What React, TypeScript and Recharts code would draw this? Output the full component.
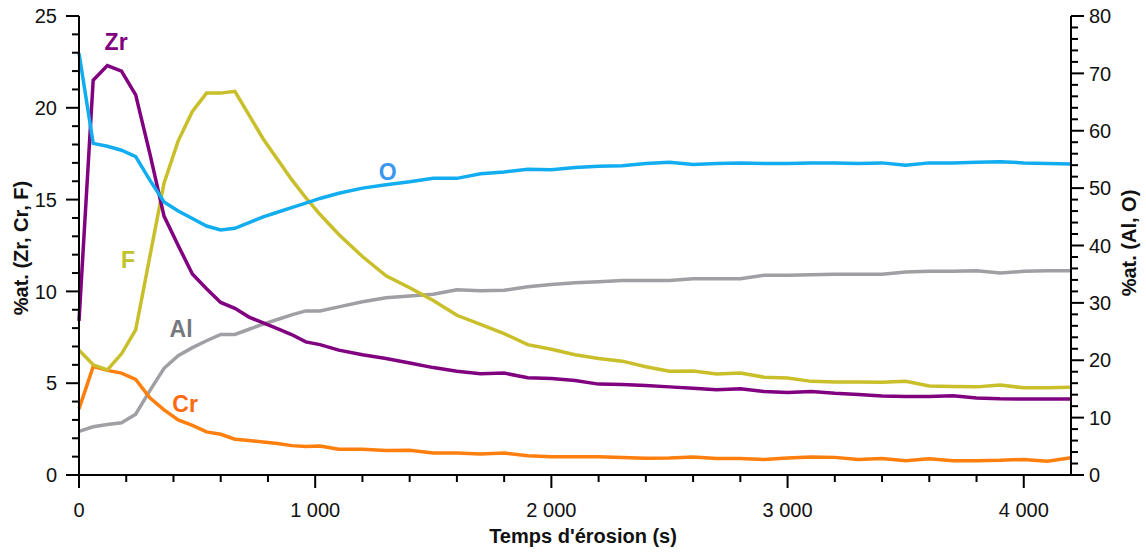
import { LineChart, Line, XAxis, YAxis, ReferenceDot } from "recharts";

// sputtering time (s)
const times = [
  0, 60, 120, 180, 240, 300, 360, 420, 480, 540, 600, 660, 720, 780, 840, 900, 960, 1020,
  1100, 1200, 1300, 1400, 1500, 1600, 1700, 1800, 1900, 2000, 2100, 2200, 2300, 2400, 2500,
  2600, 2700, 2800, 2900, 3000, 3100, 3200, 3300, 3400, 3500, 3600, 3700, 3800, 3900, 4000,
  4100, 4200,
];

// left axis (%at.)
const zr = [
  8.4, 21.5, 22.3, 22.0, 20.7, 17.5, 14.1, 12.5, 10.95, 10.15, 9.4, 9.08, 8.6, 8.28, 7.97, 7.65, 7.25, 7.1,
  6.8, 6.55, 6.35, 6.1, 5.85, 5.65, 5.52, 5.55, 5.3, 5.25, 5.15, 4.95, 4.93, 4.88, 4.8,
  4.73, 4.64, 4.7, 4.55, 4.5, 4.55, 4.45, 4.38, 4.3, 4.28, 4.28, 4.32, 4.2, 4.15, 4.14,
  4.14, 4.14,
];
const cr = [
  3.6, 5.9, 5.7, 5.55, 5.2, 4.2, 3.55, 3.0, 2.7, 2.35, 2.22, 1.95, 1.88, 1.8, 1.72, 1.6, 1.55, 1.58,
  1.4, 1.4, 1.33, 1.35, 1.2, 1.2, 1.15, 1.2, 1.05, 1.0, 1.0, 1.0, 0.95, 0.91, 0.93,
  0.98, 0.9, 0.9, 0.85, 0.93, 0.98, 0.96, 0.84, 0.9, 0.78, 0.88, 0.78, 0.78, 0.8, 0.85,
  0.75, 0.94,
];
const fl = [
  6.8, 6.0, 5.72, 6.6, 7.9, 11.9, 15.9, 18.2, 19.8, 20.8, 20.8, 20.9, 19.6, 18.3, 17.2, 16.1, 15.1, 14.2,
  13.1, 11.9, 10.85, 10.2, 9.5, 8.7, 8.2, 7.7, 7.1, 6.85, 6.55, 6.35, 6.2, 5.9, 5.65,
  5.67, 5.5, 5.55, 5.33, 5.28, 5.1, 5.07, 5.07, 5.05, 5.1, 4.85, 4.82, 4.8, 4.9, 4.75,
  4.75, 4.78,
];

// right axis (%at.)
const al = [
  7.6, 8.4, 8.8, 9.1, 10.6, 14.7, 18.6, 20.8, 22.2, 23.4, 24.5, 24.5, 25.4, 26.3, 27.1, 27.9, 28.6, 28.6,
  29.3, 30.2, 30.9, 31.2, 31.5, 32.3, 32.1, 32.2, 32.8, 33.2, 33.5, 33.7, 33.9, 33.9, 33.9,
  34.2, 34.2, 34.2, 34.8, 34.8, 34.9, 35.0, 35.0, 35.0, 35.4, 35.5, 35.5, 35.6, 35.2, 35.5,
  35.6, 35.6,
];
const ox = [
  73.5, 57.8, 57.3, 56.6, 55.5, 51.4, 47.6, 46.0, 44.7, 43.4, 42.7, 43.0, 44.0, 45.0, 45.8, 46.6, 47.4, 48.2,
  49.1, 50.0, 50.6, 51.1, 51.7, 51.7, 52.5, 52.8, 53.3, 53.2, 53.6, 53.8, 53.9, 54.3, 54.5,
  54.1, 54.3, 54.4, 54.3, 54.3, 54.4, 54.4, 54.3, 54.4, 54.0, 54.4, 54.4, 54.5, 54.6, 54.4,
  54.3, 54.2,
];

const xTicks = [0, 200, 400, 600, 800, 1000, 1200, 1400, 1600, 1800, 2000, 2200, 2400, 2600, 2800, 3000, 3200, 3400, 3600, 3800, 4000];
const xTickLabels: Record<number, string> = { 0: "0", 1000: "1 000", 2000: "2 000", 3000: "3 000", 4000: "4 000" };
const leftTicks = [0, 1, 2, 3, 4, 5, 6, 7, 8, 9, 10, 11, 12, 13, 14, 15, 16, 17, 18, 19, 20, 21, 22, 23, 24, 25];
const rightTicks = [0, 2, 4, 6, 8, 10, 12, 14, 16, 18, 20, 22, 24, 26, 28, 30, 32, 34, 36, 38, 40, 42, 44, 46, 48, 50, 52, 54, 56, 58, 60, 62, 64, 66, 68, 70, 72, 74, 76, 78, 80];

// series name labels, placed in left-axis data units
const seriesLabels = [
  { text: "Zr", t: 157, v: 23.6, color: "#800080" },
  { text: "O", t: 1307, v: 16.5, color: "#3a96ee" },
  { text: "F", t: 208, v: 11.7, color: "#c2c22a" },
  { text: "Al", t: 432, v: 7.95, color: "#75787c" },
  { text: "Cr", t: 449, v: 3.9, color: "#ff6a10" },
];

const data = times.map((t, i) => ({ t, zr: zr[i], cr: cr[i], fl: fl[i], al: al[i], ox: ox[i] }));

const FONT = "'Liberation Sans', Arial, sans-serif";

function LeftTick(props: any) {
  const { x, y, payload } = props;
  const major = payload.value % 5 === 0;
  return (
    <g>
      <line x1={x} x2={x - (major ? 13 : 7)} y1={y} y2={y} stroke="#000" strokeWidth={2} />
      {major && (
        <text x={x - 22} y={y} dy="0.36em" textAnchor="end" fontSize={20} fontFamily={FONT} fill="#111">
          {payload.value}
        </text>
      )}
    </g>
  );
}

function RightTick(props: any) {
  const { x, y, payload } = props;
  const major = payload.value % 10 === 0;
  return (
    <g>
      <line x1={x} x2={x + (major ? 13 : 7)} y1={y} y2={y} stroke="#000" strokeWidth={2} />
      {major && (
        <text x={x + 18} y={y} dy="0.36em" textAnchor="start" fontSize={20} fontFamily={FONT} fill="#111">
          {payload.value}
        </text>
      )}
    </g>
  );
}

function BottomTick(props: any) {
  const { x, y, payload } = props;
  const label = xTickLabels[payload.value];
  return (
    <g>
      <line x1={x} x2={x} y1={y} y2={y + (label ? 13 : 7)} stroke="#000" strokeWidth={2} />
      {label && (
        <text x={x} y={y + 42} textAnchor="middle" fontSize={20} fontFamily={FONT} fill="#111">
          {label}
        </text>
      )}
    </g>
  );
}

export default function App() {
  return (
    <div style={{ position: "absolute", left: 0, top: 0, width: 1146, height: 554, background: "#fff" }}>
      <LineChart width={1146} height={554} data={data} margin={{ top: 16, right: 15, bottom: 29, left: 19 }}>
        <XAxis
          dataKey="t"
          type="number"
          domain={[0, 4200]}
          ticks={xTicks}
          interval={0}
          height={50}
          tickLine={false}
          tickSize={0}
          tickMargin={0}
          axisLine={{ stroke: "#000", strokeWidth: 2 }}
          tick={<BottomTick />}
        />
        <YAxis
          yAxisId="left"
          orientation="left"
          domain={[0, 25]}
          ticks={leftTicks}
          interval={0}
          width={60}
          tickLine={false}
          tickSize={0}
          tickMargin={0}
          axisLine={{ stroke: "#000", strokeWidth: 2 }}
          tick={<LeftTick />}
        />
        <YAxis
          yAxisId="right"
          orientation="right"
          domain={[0, 80]}
          ticks={rightTicks}
          interval={0}
          width={60}
          tickLine={false}
          tickSize={0}
          tickMargin={0}
          axisLine={{ stroke: "#000", strokeWidth: 2 }}
          tick={<RightTick />}
        />
        <Line yAxisId="right" dataKey="al" stroke="#a0a0a4" strokeWidth={3.5} dot={false} isAnimationActive={false} />
        <Line yAxisId="left" dataKey="cr" stroke="#ff7f0e" strokeWidth={3.5} dot={false} isAnimationActive={false} />
        <Line yAxisId="left" dataKey="fl" stroke="#c8bf2a" strokeWidth={3.5} dot={false} isAnimationActive={false} />
        <Line yAxisId="left" dataKey="zr" stroke="#800080" strokeWidth={3.5} dot={false} isAnimationActive={false} />
        <Line yAxisId="right" dataKey="ox" stroke="#12adf0" strokeWidth={3.5} dot={false} isAnimationActive={false} />
        {seriesLabels.map((s) => (
          <ReferenceDot
            key={s.text}
            yAxisId="left"
            x={s.t}
            y={s.v}
            r={0}
            shape={(p: any) => (
              <text x={p.cx} y={p.cy} dy="0.36em" textAnchor="middle" fontSize={23} fontWeight="bold" fontFamily={FONT} fill={s.color}>
                {s.text}
              </text>
            )}
          />
        ))}
        <text transform="translate(21,248) rotate(-90)" textAnchor="middle" dy="0.36em" fontSize={20} fontWeight="bold" fontFamily={FONT} fill="#111">
          %at. (Zr, Cr, F)
        </text>
        <text transform="translate(1129,243) rotate(-90)" textAnchor="middle" dy="0.36em" fontSize={20} fontWeight="bold" fontFamily={FONT} fill="#111">
          %at. (Al, O)
        </text>
        <text x={583} y={543} textAnchor="middle" fontSize={20} fontWeight="bold" fontFamily={FONT} fill="#111">
          Temps d'érosion (s)
        </text>
      </LineChart>
    </div>
  );
}
